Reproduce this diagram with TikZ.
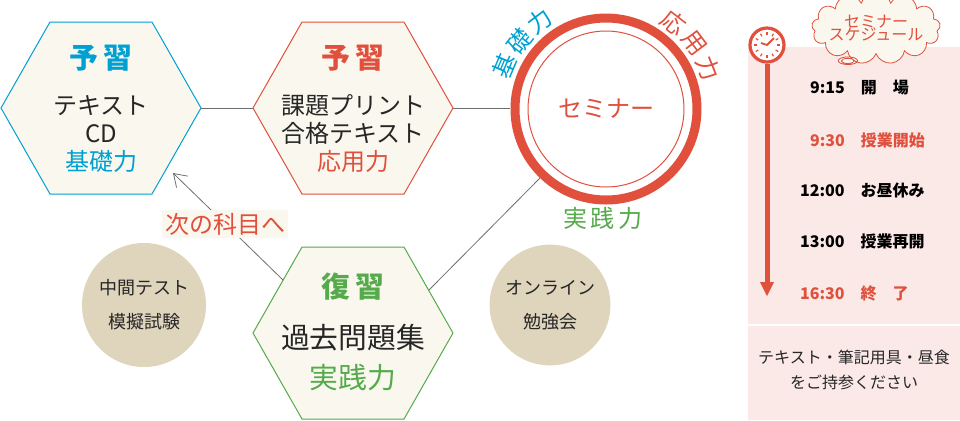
\documentclass[tikz,border=0pt]{standalone}
\usepackage{fontspec}
\setmainfont{Noto Sans CJK JP}
\usetikzlibrary{arrows.meta,positioning,calc,shapes.callouts}
\definecolor{kblue}{RGB}{0,160,210}
\definecolor{kred}{RGB}{224,80,60}
\definecolor{kgreen}{RGB}{85,170,75}
\definecolor{kbeige}{RGB}{223,212,188}
\definecolor{kcream}{RGB}{250,248,238}
\definecolor{kpink}{RGB}{250,233,230}
\definecolor{kline}{RGB}{110,110,110}
\tikzset{
  hexline/.style={line width=0.5pt},
  disk/.style={circle, fill=kbeige, minimum size=#1, align=center, font=\small, text=black!85},
  title/.style={font=\Large\bfseries},
  sched/.style={font=\footnotesize\bfseries, anchor=west},
  ringlabel/.style={font=\large, inner sep=0pt},
  link/.style={kline, line width=0.4pt}
}
\newcommand{\hexshape}[3]{% center, colour, name
  \filldraw[hexline, draw=#2, fill=kcream]
    ($(#1)+(-100,0)$) -- ($(#1)+(-51,-86)$) -- ($(#1)+(51,-86)$) --
    ($(#1)+(100,0)$) -- ($(#1)+(51,86)$) -- ($(#1)+(-51,86)$) -- cycle;
  \coordinate (#3-w) at ($(#1)+(-100,0)$);
  \coordinate (#3-e) at ($(#1)+(100,0)$);
  \coordinate (#3-ne) at ($(#1)+(76,-43)$);
  \coordinate (#3-nw) at ($(#1)+(-71,-50)$);
}
\begin{document}
\begin{tikzpicture}[x=0.5pt,y=-0.5pt]
\useasboundingbox (0,0) rectangle (960,420);

% hexagons
\hexshape{101,108}{kblue}{prep}
\hexshape{353,108}{kred}{print}
\hexshape{353,333}{kgreen}{review}

\node[title, text=kblue] (prep_t) at (101,58) {予\,習};
\node[align=center, font=\large, text=black!85] (prep_b) at (101,134) {テキスト\\CD\\\textcolor{kblue}{基礎力}};
\node[title, text=kred] (print_t) at (353,58) {予\,習};
\node[align=center, font=\large, text=black!85] (print_b) at (353,134) {課題プリント\\合格テキスト\\\textcolor{kred}{応用力}};
\node[title, text=kgreen] (review_t) at (353,287) {復\,習};
\node[align=center, font=\Large, text=black!85] (review_b) at (353,358) {過去問題集\\[2pt]\textcolor{kgreen}{実践力}};

% seminar ring
\draw[kred, line width=4.5pt] (606,109) circle (91);
\node[circle, draw=kred, line width=0.5pt, minimum size=78pt, text=kred] (seminar) at (606,109) {\large セミナー};
\foreach \c [count=\i] in {基,礎,力}
  \node[ringlabel, text=kblue, rotate={172-15*\i-90}] (kiso\i) at ($(seminar.center)+({-(172-15*\i)}:110)$) {\c};
\foreach \c [count=\i] in {応,用,力}
  \node[ringlabel, text=kred, rotate={67-15*\i-90}] (ouyou\i) at ($(seminar.center)+({-(67-15*\i)}:110)$) {\c};
\node[ringlabel, text=kgreen] (jissen) at (603,218) {実\,践\,力};

% disks
\node[disk=62pt] (mock) at (144,305) {中間テスト\\[6pt]模擬試験};
\node[disk=48pt] (online) at (550,305) {オンライン\\[6pt]勉強会};

% connectors
\draw[link] (prep-e) -- (print-w);
\draw[link] (print-e) -- (510,108) coordinate (ring_w);
\draw[link] (review-ne) -- (540,178) coordinate (ring_sw);
\draw[link, -{Straight Barb[length=6pt, width=8pt]}] (283,280) coordinate (arr_start) -- (173,173) coordinate (arr_end);
\node[fill=kcream, text=kred, font=\large, inner sep=1.5pt] (next) at (225,224) {次の科目へ};

% schedule panel
\fill[kpink] (748,47) rectangle (960,420);
\draw[white, line width=0.8pt] (748,325) -- (960,325);
\node[cloud callout, cloud puffs=13, aspect=2.4, draw=kred, fill=kcream, line width=0.4pt,
  text=kred, align=center, font=\footnotesize, callout relative pointer={(-0.3,0.35)}, inner sep=-2pt]
  (bubble) at (876,28) {セミナー\\[-3pt]スケジュール};
\draw[kred, line width=2.5pt] (767,64) coordinate (line_top) -- (767,284) coordinate (line_end);
\fill[kred] (760,282) -- (774,282) -- (767,296) -- cycle;
\draw[kred, line width=1.6pt, fill=white] (767,45) circle (17) coordinate (clock);
\foreach \a in {0,30,...,330}
  \draw[kred, line width=0.6pt] ($(clock)+(\a:10)$) -- ($(clock)+(\a:13)$);
\draw[kred, line width=0.9pt] ($(clock)+(-6,-2)$) -- (clock) -- ($(clock)+(7,-7)$);

\node[sched] (t1) at (803,88) {9:15\quad 開\quad 場};
\node[sched, text=kred] (t2) at (803,140) {9:30\quad 授業開始};
\node[sched] (t3) at (793,190) {12:00\quad お昼休み};
\node[sched] (t4) at (793,241) {13:00\quad 授業再開};
\node[sched, text=kred] (t5) at (793,293) {16:30\quad 終\quad 了};
\node[align=center, font=\footnotesize, text=black!85] (bring) at (854,370) {テキスト・筆記用具・昼食\\[3pt]をご持参ください};
\end{tikzpicture}
\end{document}
